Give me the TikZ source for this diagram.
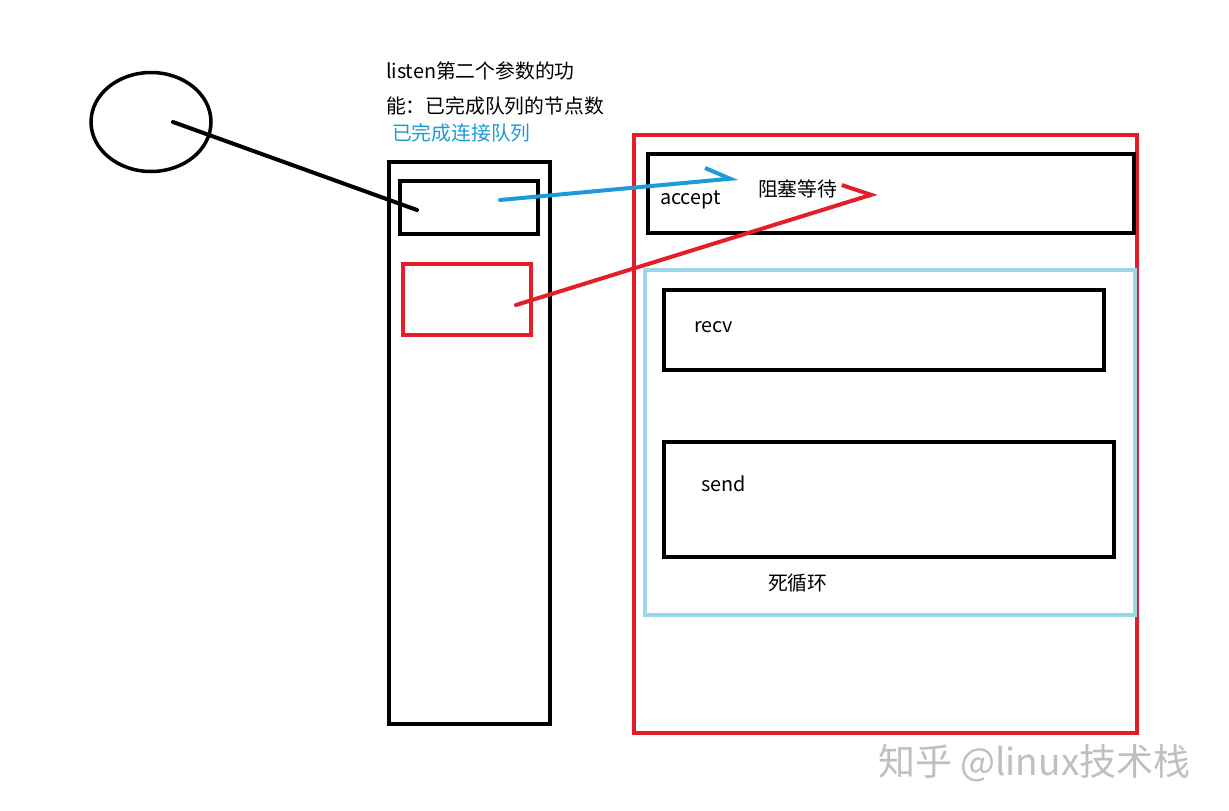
\documentclass[tikz,border=0pt]{standalone}
\usepackage{fontspec}
\setmainfont{Noto Sans CJK SC}
\usepackage{xcolor}
\usepackage{tikz}
\usetikzlibrary{arrows.meta,positioning,shapes.geometric}
\definecolor{qred}{RGB}{228,30,40}
\definecolor{qblue}{RGB}{30,155,215}
\definecolor{qlight}{RGB}{155,215,230}

\begin{document}
\begin{tikzpicture}[x=1pt, y=-1pt, font=\fontsize{19.8}{23}\selectfont, every node/.style={inner sep=0pt, outer sep=0pt}]
        \tikzset{
            fr/.style={draw, line width=4pt, minimum width=#1},
            lbl/.style={anchor=west},
            lnk/.style={line width=4pt, line cap=round, line join=round}
        }
        \useasboundingbox[fill=white] (0,0) rectangle (1229,811);
        \node[draw, line width=3.5pt, ellipse, minimum width=120pt, minimum height=99pt] (cli) at (151,122) {};
        \node[fr=161pt, minimum height=562pt] (lst) at (469.5,443) {};
        \node[fr=138pt, minimum height=53pt] (done) at (469,207.5) {};
        \node[fr=128pt, minimum height=71pt, qred] (pend) at (467,299.5) {};
        \node[fr=503pt, minimum height=598pt, qred] (srv) at (885.5,434) {};
        \node[fr=486pt, minimum height=79pt] (acc) at (891,193.5) {};
        \node[fr=490pt, minimum height=345pt, qlight] (loop) at (890,442.5) {};
        \node[fr=440pt, minimum height=80pt] (rcv) at (884,330) {};
        \node[fr=450pt, minimum height=115pt] (snd) at (889,499.5) {};
        \node[lbl] (t1) at (386,71) {listen第二个参数的功};
        \node[lbl] (t2) at (386,106) {能：已完成队列的节点数};
        \node[lbl, text=qblue] (t3) at (392,133) {已完成连接队列};
        \node[lbl] (tacc) at (660,200) {accept};
        \node[lbl] (tblk) at (758,189) {阻塞等待};
        \node[lbl] (trcv) at (694,327) {recv};
        \node[lbl] (tsnd) at (701,484) {send};
        \node[lbl] (tloop) at (768,583) {死循环};
        \node[lbl, text=black!25, font=\fontsize{37}{42}\selectfont] (wm) at (878,763) {知乎 @linux技术栈};
        \coordinate (c1) at (173,122);
        \coordinate (c2) at (417,210);
        \coordinate (b1) at (500,200);
        \coordinate (b2) at (738,178);
        \coordinate (r1) at (516,305);
        \coordinate (r2) at (877,193);
        \draw[lnk] (c1) -- (c2);
        \draw[lnk, qblue, -{Straight Barb[left, length=24pt, width=26pt]}] (b1) -- (b2);
        \draw[lnk, qred, -{Straight Barb[left, length=25pt, width=36pt]}] (r1) -- (r2);
    \end{tikzpicture}
\end{document}
